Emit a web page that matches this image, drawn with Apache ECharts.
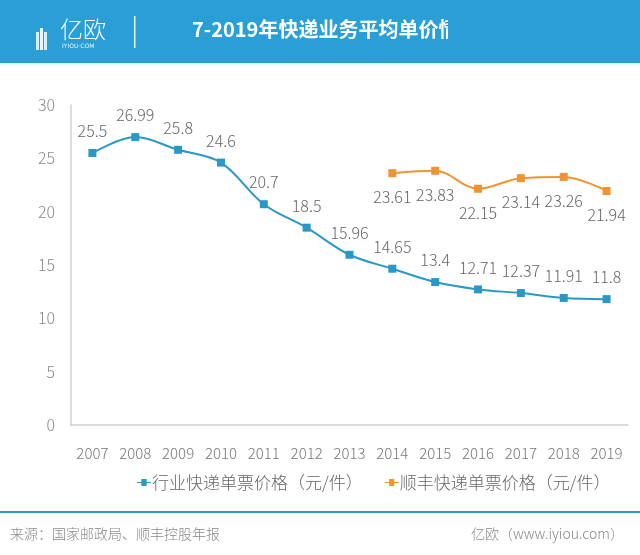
<!DOCTYPE html>
<html><head><meta charset="utf-8">
<script src="https://cdn.jsdelivr.net/npm/echarts@6/dist/echarts.min.js"></script>
<style>html,body{margin:0;padding:0;background:#fff}#c{width:640px;height:555px}</style>
</head><body><div id="c"></div>
<script>
const years = ['2007','2008','2009','2010','2011','2012','2013','2014','2015','2016','2017','2018','2019'];
const industryPrice = [25.5,26.99,25.8,24.6,20.7,18.5,15.96,14.65,13.4,12.71,12.37,11.91,11.8];
const sfPrice = [null,null,null,null,null,null,null,23.61,23.83,22.15,23.14,23.26,21.94];
const seriesNames = ['行业快递单票价格（元/件）','顺丰快递单票价格（元/件）'];
const titleText = '7-2019年快递业务平均单价情';
const sourceText = '来源：国家邮政局、顺丰控股年报';
const brandText = '亿欧（www.iyiou.com）';

const FONT = '"Noto Sans CJK SC","Noto Sans",sans-serif';
const ICON = 'path://M0,3.5H5V0H11V3.5H16V4.5H11V8H5V4.5H0Z';
const chart = echarts.init(document.getElementById('c'));
chart.setOption({
  backgroundColor:'#ffffff',
  animation:false,
  textStyle:{fontFamily:FONT},
  grid:{left:71,right:12,top:105,bottom:130},
  legend:{
    top:469, left:132, itemWidth:14, itemHeight:7, itemGap:22,
    textStyle:{fontSize:17,color:'#666',fontWeight:300,fontFamily:FONT,padding:[0,0,0,-4]},
    data:[{name:seriesNames[0],icon:ICON},{name:seriesNames[1],icon:ICON}]
  },
  xAxis:{
    type:'category', data:years, boundaryGap:true,
    axisLine:{lineStyle:{color:'#d0d0d0',width:1.5}},
    axisTick:{show:false},
    axisLabel:{color:'#777',fontSize:15,fontWeight:300,margin:21,interval:0}
  },
  yAxis:{
    type:'value', min:0, max:30, interval:5,
    axisLine:{show:true,lineStyle:{color:'#d0d0d0',width:1.5}},
    axisTick:{show:false},
    splitLine:{show:false},
    axisLabel:{color:'#888',fontSize:16,fontWeight:300,margin:16}
  },
  series:[
    {name:seriesNames[0], type:'line', data:industryPrice, smooth:0.35,
     symbol:'rect', symbolSize:8, itemStyle:{color:'#2a98c6'},
     lineStyle:{color:'#2a98c6',width:2},
     label:{show:true,position:'top',distance:10,color:'#666',fontSize:16,fontWeight:300}},
    {name:seriesNames[1], type:'line', data:sfPrice, smooth:0.35,
     symbol:'rect', symbolSize:8, itemStyle:{color:'#ef9434'},
     lineStyle:{color:'#ef9434',width:2},
     label:{show:true,position:'bottom',distance:12,color:'#666',fontSize:16,fontWeight:300}}
  ],
  graphic:[
    {type:'rect',left:0,top:0,shape:{width:640,height:63},style:{fill:'#2a9fd5'},z:-1},
    {type:'rect',left:0,top:63,shape:{width:640,height:3},style:{fill:'#eef8fd'},z:-1},
    {type:'rect',left:36,top:32,shape:{width:3,height:18},style:{fill:'#d6eef9'}},
    {type:'rect',left:40,top:28,shape:{width:3,height:22},style:{fill:'#e6f5fc'}},
    {type:'rect',left:44,top:32,shape:{width:3,height:18},style:{fill:'#d6eef9'}},
    {type:'text',left:60,top:18,style:{text:'亿欧',fill:'#ffffff',fontSize:23,fontWeight:300,fontFamily:FONT}},
    {type:'text',left:62,top:43,style:{text:'IYIOU·COM',fill:'#e8f6fd',fontSize:6,fontFamily:'"DejaVu Sans",sans-serif'}},
    {type:'rect',left:134,top:16,shape:{width:1.5,height:32},style:{fill:'#e8f6fd'}},
    {type:'text',left:192,top:19,style:{text:titleText,fill:'#ffffff',fontSize:20,fontWeight:'bold',fontFamily:FONT}},
    {type:'rect',left:448,top:12,shape:{width:24,height:40},style:{fill:'#2a9fd5'}},
    {type:'rect',left:0,top:511,shape:{width:640,height:2},style:{fill:'#2a98c6'}},
    {type:'text',left:10,top:527,style:{text:sourceText,fill:'#888',fontSize:14,fontWeight:300,fontFamily:FONT}},
    {type:'text',right:16,top:527,style:{text:brandText,fill:'#888',fontSize:14,fontWeight:300,fontFamily:FONT}}
  ]
});
</script></body></html>
